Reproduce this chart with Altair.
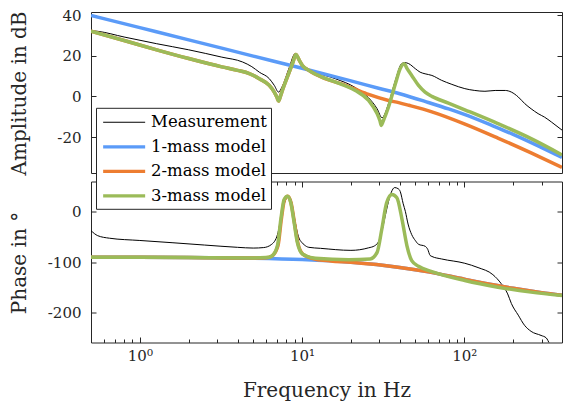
import altair as alt
import pandas as pd

SERIES = ["Measurement", "1-mass model", "2-mass model", "3-mass model"]
COLORS = ["#000000", "#5b9bf8", "#ed7d31", "#9bbb59"]
LINE_W = [1.0, 3.5, 3.5, 3.5]

# ---------------- Amplitude in dB ----------------
meas_amp_f = [0.5, 0.55, 0.8, 1.27, 2.0, 3.2, 4.3, 4.9, 5.45, 6.28, 6.74, 7.16, 7.56, 8.32, 9.06,
              10.05, 12.1, 16.0, 21.3, 25.7, 29.0, 31.1, 34.1, 37.6, 41.1, 43.0, 45.4, 49.9, 53.4,
              57.3, 63.1, 72.4, 83.8, 100.7, 116, 134, 155, 179, 195, 215, 236, 258, 285, 312, 344,
              378, 400]
meas_amp = [32.3, 32.0, 29.2, 25.9, 22.9, 19.3, 16.9, 14.6, 11.9, 8.7, 5.4, 2.1, 5.0, 14.0, 21.0,
            15.2, 11.9, 8.7, 4.3, -0.7, -6.1, -10.5, -3.6, 7.9, 16.1, 16.6, 16.1, 13.6, 11.9,
            11.1, 10.3, 7.9, 5.9, 3.8, 2.9, 2.5, 2.9, 2.9, 2.1, -0.3, -3.6, -6.1, -8.5, -10.2, -12.6,
            -15.1, -16.6]

m1_amp_f = [0.5, 1, 2, 5, 10, 20, 30, 40, 60, 80, 100, 150, 200, 300, 400]
m1_amp = [39.8, 33.8, 27.8, 19.8, 13.8, 7.6, 3.9, 1.3, -3.0, -6.2, -8.9, -14.5, -18.7, -25.2, -30.0]

m2_amp_f = [0.5, 0.8, 1.27, 2.0, 3.2, 4.0, 4.73, 5.45, 6.28, 6.74, 7.0, 7.16, 7.35, 7.56, 8.32, 8.8,
            9.15, 9.6, 10.05, 11.0, 13.3, 17.7, 21.3, 25.7, 34.1, 39.4, 45.5, 63.1, 100, 161, 258, 400]
m2_amp = [32.1, 27.5, 22.9, 18.6, 14.5, 12.8, 11.2, 8.7, 5.4, 2.1, -0.5, -2.3, 0.0, 2.9, 11.8, 17.0,
          20.6, 17.8, 15.2, 12.8, 9.3, 6.0, 3.5, 1.0, -2.0, -3.1, -4.4, -7.6, -13.5, -20.5, -27.8, -34.9]

m3_amp_f = [0.5, 0.8, 1.27, 2.0, 3.2, 4.0, 4.73, 5.45, 6.28, 6.74, 7.0, 7.16, 7.35, 7.56, 8.32, 8.8,
            9.15, 9.6, 10.05, 11.0, 13.3, 17.7, 21.3, 25.7, 29.0, 30.2, 30.8, 31.5, 34.1, 37.6, 40.2,
            42.5, 44.5, 47.4, 52.2, 57.3, 63.1, 79.8, 100.7, 161, 258, 400]
m3_amp = [32.1, 27.5, 22.9, 18.6, 14.5, 12.8, 11.2, 8.7, 5.4, 2.1, -0.5, -2.3, 0.0, 2.9, 11.8, 17.0,
          20.6, 17.8, 15.2, 12.8, 9.5, 5.8, 2.9, -2.0, -8.5, -12.0, -14.3, -12.5, -5.2, 6.2, 13.6,
          16.1, 13.5, 10.3, 5.4, 2.1, 0.0, -3.3, -6.6, -13.4, -20.8, -28.8]

# ---------------- Phase in degrees ----------------
meas_pha_f = [0.5, 0.55, 0.65, 1.0, 1.6, 2.5, 4.0, 5.0, 5.8, 6.5, 7.05, 7.5, 7.9, 8.2, 8.6, 9.0, 9.5,
              10.0, 10.3, 11.0, 13.0, 20.0, 25.7, 28.0, 29.7, 31.0, 32.5, 34.0, 35.5, 37.2, 39.0,
              40.3, 42.0, 43.3, 45.0, 47.4, 50.0, 52.2, 57.4, 59.5, 61.5, 63.1, 72.4, 100.7, 121.5,
              150, 169, 185, 195, 215, 235, 258, 297, 320, 335, 350]
meas_pha = [-38, -48, -53, -57.5, -62, -66.5, -71, -72.5, -71.5, -65, -46, -5, 22, 30, 20, -15, -50,
            -62, -66, -71, -73, -77, -72, -68, -58.8, -40, -10, 18, 38, 47, 45,
            39, 15, 0, -25, -46, -58, -65, -69, -75, -87, -89, -94, -102.5, -111,
            -125, -143, -163, -182, -205, -225, -237, -245, -250, -261, -270]

m1_pha_f = [0.5, 1, 2, 5, 10, 20, 40, 60, 100, 150, 200, 300, 400]
m1_pha = [-90.4, -90.6, -91.1, -92.6, -95.3, -100.6, -110.8, -119.5, -134, -145, -152, -160.5, -165.5]

m2_pha_f = [0.5, 1, 2, 4.73, 6.0, 6.5, 7.1, 7.45, 7.8, 8.17, 8.55, 8.97, 9.4, 10.1, 12.1, 15, 20,
            40, 60, 100, 150, 200, 300, 400]
m2_pha = [-90.4, -90.6, -91.1, -92.3, -91.5, -88.5, -68, -15.7, 23.5, 30, 17, -22, -61.4, -84.3,
          -94.5, -97.8, -100.6, -110.8, -119.5, -134, -145, -152, -160.5, -165.5]

m3_pha_f = [0.5, 1, 2, 4.73, 6.0, 6.5, 7.05, 7.4, 7.75, 8.13, 8.52, 8.93, 9.35, 10.05, 12.1, 19.4,
            26.3, 29.0, 31.0, 33.2, 35.8, 38.4, 41.3, 44.3, 47.4, 52.2, 63.1, 100.7, 161, 258, 400]
m3_pha = [-90.4, -90.6, -91.0, -92.0, -91.2, -88.3, -68, -15.7, 23.5, 30, 17, -22, -61.4, -84.3,
          -92.8, -95.5, -94, -81, -35.3, 17, 33.3, 27, -15.7, -68, -97.4, -108.5, -119, -136.6,
          -149.7, -159.5, -166.2]

AMP_TICKS = [-20, 0, 20, 40]
PHA_TICKS = [-200, -100, 0]
X_MAJOR = [1, 10, 100]
X_MINOR = [0.6, 0.7, 0.8, 0.9, 2, 3, 4, 5, 6, 7, 8, 9, 20, 30, 40, 50, 60, 70, 80, 90, 200, 300]


def frame(f, v, name):
    return pd.DataFrame({"f": f, "v": v, "series": name})


amp_data = [frame(meas_amp_f, meas_amp, SERIES[0]), frame(m1_amp_f, m1_amp, SERIES[1]),
            frame(m2_amp_f, m2_amp, SERIES[2]), frame(m3_amp_f, m3_amp, SERIES[3])]
pha_data = [frame(meas_pha_f, meas_pha, SERIES[0]), frame(m1_pha_f, m1_pha, SERIES[1]),
            frame(m2_pha_f, m2_pha, SERIES[2]), frame(m3_pha_f, m3_pha, SERIES[3])]
legend_data = pd.DataFrame({"f": [1.0] * 4, "v": [0.0] * 4, "series": SERIES})

FONT = "DejaVu Serif"
INK = "#262626"
W, H = 471, 161
TMAJ, TMIN, TY = 5.5, 3.5, 5.0
TICK_FS, TITLE_FS, LEG_FS = 15, 20, 16.5

xs = alt.Scale(type="log", domain=[0.5, 400], nice=False)
ys_amp = alt.Scale(domain=[-37.7, 41.5], nice=False, zero=False)
ys_pha = alt.Scale(domain=[-259, 59], nice=False, zero=False)
cs = alt.Scale(domain=SERIES, range=COLORS)
# legend glyphs: horizontal bars 42 px long (1 px / 3 px thick) at symbol size 441 (r = 10.5)
THIN = "M-0.7,-0.048H3.3V0.048H-0.7Z"
THICK = "M-0.7,-0.155H3.3V0.155H-0.7Z"
ss = alt.Scale(domain=SERIES, range=[THIN, THICK, THICK, THICK])

YEXPR = "datum.value < 0 ? '-' + format(-datum.value, 'd') : format(datum.value, 'd')"
XEXPR = "datum.value == 1 ? '10\u2070' : datum.value == 10 ? '10\u00b9' : datum.value == 100 ? '10\u00b2' : ''"


def ticks_only(orient, values, size):
    return alt.Axis(orient=orient, values=values, tickSize=size, offset=-size, domain=False,
                    grid=False, labels=False, ticks=True, tickColor=INK, tickWidth=1, title=None)


def y_main(title, values):
    return alt.Axis(orient="left", values=values, tickSize=TY, offset=-TY, domain=False, grid=False,
                    ticks=True, tickColor=INK, tickWidth=1, labelExpr=YEXPR, labelFont=FONT,
                    labelFontSize=TICK_FS, labelColor=INK, labelPadding=10, title=title,
                    titleFont=FONT, titleFontSize=TITLE_FS, titleFontWeight="normal",
                    titleColor=INK, titleAngle=270, titleAlign="center",
                    titleBaseline="alphabetic", titleX=-71, titleY=81)


x_main = alt.Axis(orient="bottom", values=X_MAJOR, tickSize=TMAJ, offset=-TMAJ, domain=False,
                  grid=False, ticks=True, tickColor=INK, tickWidth=1, labelExpr=XEXPR,
                  labelFont=FONT, labelFontSize=TICK_FS, labelColor=INK, labelPadding=6,
                  labelFlush=False, title="Frequency in Hz", titleFont=FONT,
                  titleFontSize=TITLE_FS, titleFontWeight="normal", titleColor=INK,
                  titleX=W / 2, titleY=59, titleBaseline="alphabetic", titleAlign="center")

legend = alt.Legend(orient="none", legendX=5, legendY=-73.7, title=None, fillColor="white",
                    strokeColor=INK, padding=4, cornerRadius=0, symbolSize=441,
                    symbolStrokeWidth=0, symbolOpacity=1, labelFont=FONT, labelFontSize=LEG_FS,
                    labelColor="#000000", labelOffset=30, rowPadding=5.5, labelLimit=300)


def panel(data, ys, ytitle, yvals, bottom):
    layers = []
    for i, d in enumerate(data):
        layers.append(
            alt.Chart(d).mark_line(clip=True, interpolate="monotone", strokeWidth=LINE_W[i],
                                   strokeJoin="round").encode(
                x=alt.X("f:Q", scale=xs, axis=(x_main if (bottom and i == 0) else None)),
                y=alt.Y("v:Q", scale=ys, axis=(y_main(ytitle, yvals) if i == 0 else None)),
                color=alt.value(COLORS[i]),
            )
        )
    base = alt.Chart(legend_data).transform_filter("false")
    layers.append(base.mark_point().encode(
        x=alt.X("f:Q", scale=xs, axis=(ticks_only("top", X_MAJOR, TMAJ) if bottom else None)),
        y=alt.Y("v:Q", scale=ys, axis=ticks_only("right", yvals, TY)),
    ))
    if bottom:
        layers.append(base.mark_point().encode(
            x=alt.X("f:Q", scale=xs, axis=ticks_only("bottom", X_MINOR, TMIN)),
            y=alt.Y("v:Q", scale=ys, axis=None),
        ))
        layers.append(base.mark_point().encode(
            x=alt.X("f:Q", scale=xs, axis=ticks_only("top", X_MINOR, TMIN)),
            y=alt.Y("v:Q", scale=ys, axis=None),
        ))
        layers.append(base.mark_point(filled=True, opacity=1).encode(
            x=alt.X("f:Q", scale=xs, axis=None),
            y=alt.Y("v:Q", scale=ys, axis=None),
            color=alt.Color("series:N", scale=cs, legend=legend),
            shape=alt.Shape("series:N", scale=ss, legend=legend),
        ))
    return alt.layer(*layers).resolve_axis(x="independent", y="independent").properties(
        width=W, height=H)


top = panel(amp_data, ys_amp, "Amplitude in dB", AMP_TICKS, False)
bottom = panel(pha_data, ys_pha, "Phase in \u00b0", PHA_TICKS, True)

chart = alt.vconcat(top, bottom, spacing=8.5, bounds="flush").resolve_scale(
    color="independent", shape="independent"
).properties(
    padding={"left": 8, "top": 7, "right": 0, "bottom": 0}, background="white"
).configure_view(
    stroke=INK, strokeWidth=1
).configure_axis(
    labelFont=FONT, titleFont=FONT
).configure_legend(
    labelFont=FONT
)

chart.save("out.html", embed_options={"renderer": "svg", "actions": False})
